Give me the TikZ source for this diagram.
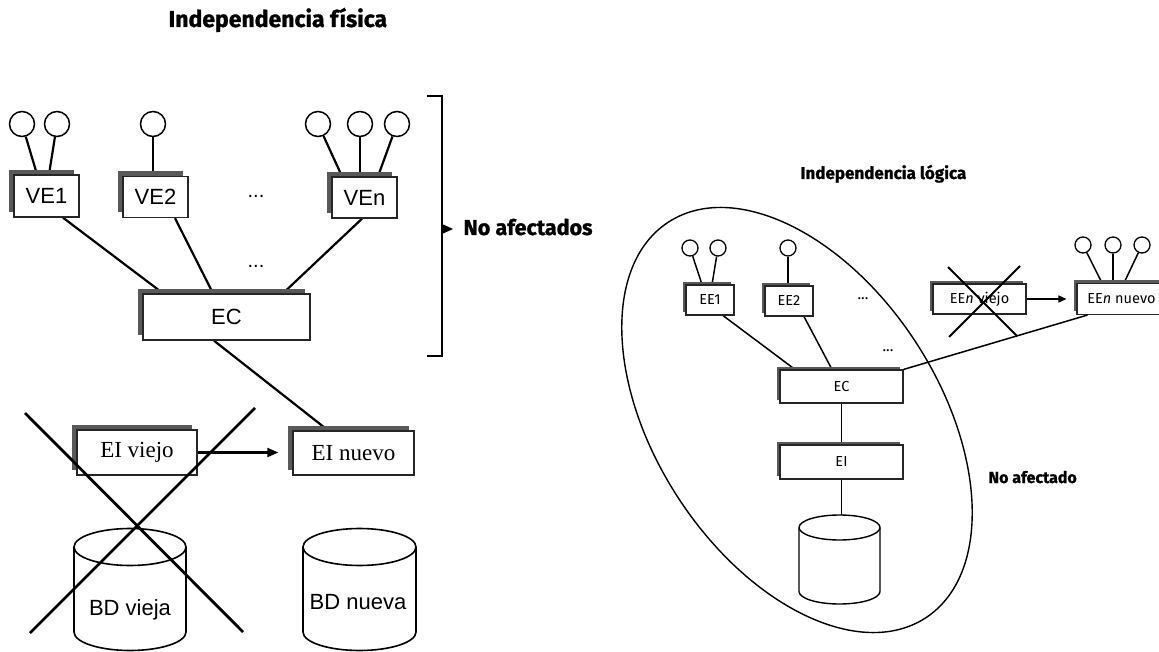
\documentclass[tikz,border=0pt]{standalone}
\usepackage{fontspec}
\setmainfont{Liberation Sans}
\newfontfamily\serifbox{Liberation Serif}
\newfontfamily\hfont{Fira Sans}[BoldFeatures={FakeBold=1.2}]
\usetikzlibrary{calc,arrows.meta,shadows,backgrounds}

\begin{document}
\begin{tikzpicture}[x=1pt,y=-1pt,
  % left diagram (physical independence)
  lbox/.style={draw=black!85, line width=1.4pt, fill=white, inner sep=0pt,
    general shadow={fill=black!65, shadow xshift=-5pt, shadow yshift=5pt},
    font=\fontsize{22}{22}\selectfont},
  sbox/.style={lbox, font=\serifbox\fontsize{23}{23}\selectfont},
  lcirc/.style={circle, draw, line width=1.5pt, minimum size=25pt, inner sep=0pt, fill=white},
  lconn/.style={line width=2.2pt},
  lcyl/.style={line width=1.6pt, fill=white},
  % right diagram (logical independence)
  rbox/.style={draw=black!85, line width=1.1pt, fill=white, inner sep=0pt,
    general shadow={fill=black!65, shadow xshift=-3pt, shadow yshift=3pt},
    font=\hfont\fontsize{14.5}{14.5}\selectfont},
  rcirc/.style={circle, draw, line width=1.3pt, minimum size=16pt, inner sep=0pt, fill=white},
  rconn/.style={line width=1.5pt},
  rcyl/.style={line width=1.4pt, fill=white},
  cross/.style={line width=2.8pt},
  heading/.style={anchor=base west, font=\hfont\bfseries\fontsize{23}{23}\selectfont},
  subheading/.style={anchor=base west, font=\hfont\bfseries\fontsize{17}{17}\selectfont},
  dots/.style={font=\fontsize{20}{20}\selectfont, inner sep=0pt}
]
\path[use as bounding box, clip] (0,0) rectangle (1159,652);

% ---------------- headings ----------------
\node[heading] (tfis) at (165,27) {Independencia física};
\node[subheading] (tlog) at (797,179) {Independencia lógica};

% ---------------- external views ----------------
\node[lbox, minimum width=65pt, minimum height=42pt] (VE1) at (46.5,196) {VE1};
\node[lbox, minimum width=65pt, minimum height=41pt] (VE2) at (155.5,197) {VE2};
\node[lbox, minimum width=65pt, minimum height=41pt] (VEn) at (364.5,197.5) {VEn};
\node[dots] (ldots1) at (256,196) {...};
\node[dots] (ldots2) at (256,266) {...};

\node[lcirc] (u11) at (22,124) {};
\node[lcirc] (u12) at (57,124) {};
\node[lcirc] (u21) at (153,124) {};
\node[lcirc] (u31) at (318,124) {};
\node[lcirc] (u32) at (360,124) {};
\node[lcirc] (u33) at (397,124) {};

% conceptual schema
\node[lbox, minimum width=167pt, minimum height=46pt] (EC) at (226.5,317) {EC};

% internal schemas
\node[sbox, minimum width=120pt, minimum height=45pt] (EIv) at (137,452.5) {EI viejo};
\node[sbox, minimum width=121pt, minimum height=44pt] (EIn) at (353.5,453) {EI nuevo};

\begin{scope}[on background layer]
  \draw[lconn] (u11) -- ($(VE1.north)+(-9.5,0)$);
  \draw[lconn] (u12) -- ($(VE1.north)+(2.5,0)$);
  \draw[lconn] (u21) -- ($(VE2.north)+(-2.5,0)$);
  \draw[lconn] (u31) -- ($(VEn.north)+(-22.5,0)$);
  \draw[lconn] (u32) -- ($(VEn.north)+(-4.5,0)$);
  \draw[lconn] (u33) -- ($(VEn.north)+(13.5,0)$);
  \draw[lconn] ($(VE1.south)+(16.5,0)$) -- ($(EC.north)+(-63.5,0)$);
  \draw[lconn] ($(VE2.south)+(19.5,0)$) -- ($(EC.north)+(-13.5,0)$);
  \draw[lconn] ($(VEn.south)+(-2.5,0)$) -- ($(EC.north)+(56.5,0)$);
  \draw[lconn] ($(EC.south)+(-12.5,0)$) -- ($(EIn.north)+(-25.5,0)$);
\end{scope}

\draw[lconn, -{Triangle[length=11pt,width=9pt]}, shorten >=14pt] (EIv.east) -- (EIv.east -| EIn.west);

% databases
\coordinate (dbA) at (130,528.5);
\coordinate (dbB) at (359.5,528.5);
\draw[lcyl] (74,547) -- (74,632) arc[start angle=180, end angle=360, x radius=56pt, y radius=18.5pt] -- (186,547);
\draw[lcyl] (130,547) ellipse [x radius=56pt, y radius=18.5pt];
\draw[lcyl] (303,547) -- (303,632) arc[start angle=180, end angle=360, x radius=56.5pt, y radius=18.5pt] -- (416,547);
\draw[lcyl] (359.5,547) ellipse [x radius=56.5pt, y radius=18.5pt];
\node (bdv) at (130,610) {\fontsize{22}{22}\selectfont BD vieja};
\node (bdn) at (358,602) {\fontsize{22}{22}\selectfont BD nueva};
\draw[lconn] ($(EIv.south)+(-5,0)$) -- ($(EIv.south)+(-5,0)$ |- dbA);
\draw[line width=1.5pt, black!80] ($(EIn.south)+(7.5,0)$) -- ($(EIn.south)+(7.5,0)$ |- dbB);

% the discarded internal schema
\coordinate (xa1) at (25,413);
\coordinate (xa2) at (243,632);
\coordinate (xb1) at (255,408);
\coordinate (xb2) at (30,633);
\draw[cross] (xa1) -- (xa2);
\draw[cross] (xb1) -- (xb2);

% bracket of unaffected levels
\coordinate (br1) at (427,96);
\coordinate (br2) at (442,96);
\coordinate (br3) at (442,356);
\coordinate (br4) at (427,356);
\draw[line width=1.8pt] (br1) -- (br2) -- (br3) -- (br4);
\fill (442,224) -- (453,229) -- (442,234) -- cycle;
\node[heading, font=\hfont\bfseries\fontsize{21.5}{21.5}\selectfont] (noaf) at (460,235) {No afectados};

% ---------------- right diagram ----------------
\draw[line width=1.4pt, rotate around={-57:(797,420)}] (797,420) ellipse [x radius=236pt, y radius=142pt];

\node[rbox, minimum width=48pt, minimum height=30pt] (EE1) at (710,300) {EE1};
\node[rbox, minimum width=48pt, minimum height=30pt] (EE2) at (789,301) {EE2};
\node[rbox, minimum width=93pt, minimum height=30pt] (EEv) at (979.5,299) {EE\textit{n} viejo};
\node[rbox, minimum width=89pt, minimum height=31pt] (EEw) at (1121.5,299) {EE\textit{n} nuevo};
\node[dots, font=\hfont\fontsize{15}{15}\selectfont] (rdots1) at (863,299) {...};
\node[dots, font=\hfont\fontsize{15}{15}\selectfont] (rdots2) at (888,351) {...};

\node[rcirc] (e11) at (690,248) {};
\node[rcirc] (e12) at (718,248) {};
\node[rcirc] (e21) at (788,248) {};
\node[rcirc] (e31) at (1083,245) {};
\node[rcirc] (e32) at (1113,245) {};
\node[rcirc] (e33) at (1142,245) {};

\node[rbox, minimum width=123pt, minimum height=33pt] (rEC) at (841.5,386.5) {EC};
\node[rbox, minimum width=123pt, minimum height=34pt] (rEI) at (841.5,462) {EI};

\begin{scope}[on background layer]
  \draw[rconn] (e11) -- ($(EE1.north)+(-8,0)$);
  \draw[rconn] (e12) -- ($(EE1.north)+(2,0)$);
  \draw[rconn] (e21) -- ($(EE2.north)+(-1,0)$);
  \draw[rconn] (e31) -- ($(EEw.north)+(-19.5,0)$);
  \draw[rconn] (e32) -- ($(EEw.north)+(-8.5,0)$);
  \draw[rconn] (e33) -- ($(EEw.north)+(2.5,0)$);
  \draw[rconn] ($(EE1.south)+(13,0)$) -- ($(rEC.north)+(-46.5,0)$);
  \draw[rconn] ($(EE2.south)+(15,0)$) -- ($(rEC.north)+(-9.5,0)$);
  \draw[rconn] (rEC.south) -- (rEI.north);
\end{scope}
\draw[rconn] (rEC.north east) -- ($(EEw.south west)+(11,0)$);
\draw[rconn, -{Triangle[length=8pt,width=7pt]}, shorten >=10pt] (EEv.east) -- (EEv.east -| EEw.west);

% database
\coordinate (dbR) at (839.5,515);
\draw[rcyl] (799,527.5) -- (799,591.5) arc[start angle=180, end angle=360, x radius=40.5pt, y radius=12.5pt] -- (880,527.5);
\draw[rcyl] (839.5,527.5) ellipse [x radius=40.5pt, y radius=12.5pt];
\draw[rconn] (rEI.south) -- (rEI.south |- dbR);

% the replaced external schema
\coordinate (xc1) at (948,267);
\coordinate (xc2) at (1017,336);
\coordinate (xd1) at (1020,266);
\coordinate (xd2) at (949,337);
\draw[line width=2pt] (xc1) -- (xc2);
\draw[line width=2pt] (xd1) -- (xd2);

\node[subheading, font=\hfont\bfseries\fontsize{16}{16}\selectfont] (noaf2) at (985,483) {No afectado};
\end{tikzpicture}
\end{document}
